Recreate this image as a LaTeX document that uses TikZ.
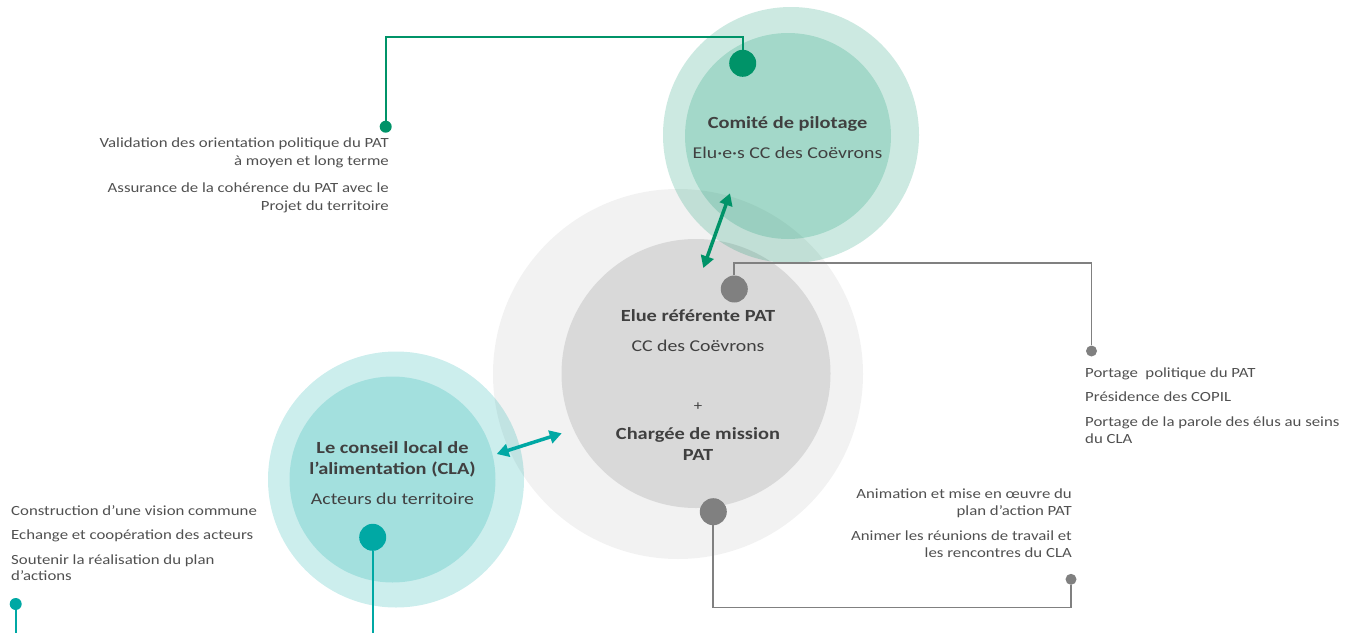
\documentclass[tikz,border=0pt]{standalone}
\usepackage{fontspec}
\setmainfont{Carlito}[FakeStretch=1.2]
\usetikzlibrary{arrows.meta}
\definecolor{cgreen}{RGB}{0,147,104}
\definecolor{cteal}{RGB}{0,168,164}
\definecolor{cgrayline}{RGB}{128,128,128}
\definecolor{cgrayout}{RGB}{242,242,242}
\definecolor{cgrayin}{RGB}{217,217,217}
\definecolor{ctxt}{RGB}{64,64,64}
\definecolor{ctxtl}{RGB}{80,80,80}
\begin{document}
\begin{tikzpicture}[x=1pt,y=-1pt,
  disc/.style={circle,inner sep=0pt,minimum size=#1,draw=none},
  body/.style={font=\fontsize{14}{17}\selectfont,text=ctxtl,inner sep=0pt},
  title/.style={font=\fontsize{17}{21}\selectfont\bfseries,text=ctxt,inner sep=0pt,anchor=base},
  sub/.style={font=\fontsize{16.5}{20}\selectfont,text=ctxt,inner sep=0pt,anchor=base},
  gline/.style={draw=cgreen,line width=1.8pt},
  tline/.style={draw=cteal,line width=1.8pt},
  yline/.style={draw=cgrayline,line width=1.8pt},
  garrow/.style={draw=cgreen,fill=cgreen,line width=3.5pt,{Triangle[length=12pt,width=13pt]}-{Triangle[length=12pt,width=13pt]}},
  tarrow/.style={draw=cteal,fill=cteal,line width=3.5pt,{Triangle[length=12pt,width=13pt]}-{Triangle[length=12pt,width=13pt]}}
]
\useasboundingbox (0,0) rectangle (1352,632);

% big circles
\node[disc=370pt,fill=cgrayout] (midout) at (678,374) {};
\node[disc=269pt,fill=cgrayin] (midin) at (696,373.5) {};
\node[disc=256pt,fill=cgreen,fill opacity=0.2] (topout) at (791,135) {};
\node[disc=206pt,fill=cgreen,fill opacity=0.2] (topin) at (788,136) {};
\node[disc=256pt,fill=cteal,fill opacity=0.2] (leftout) at (396,479.5) {};
\node[disc=206pt,fill=cteal,fill opacity=0.2] (leftin) at (392.5,479.5) {};

% connector corners
\coordinate (gturn) at (385.7,37.3);
\coordinate (yturn1) at (1091.5,263);
\coordinate (yturn2) at (713.3,607.5);
\coordinate (tbot) at (372.7,640);
\coordinate (tbot2) at (15.7,640);

% dots
\node[disc=27pt,fill=cgreen] (gdot) at (742.7,63.3) {};
\node[disc=12pt,fill=cgreen] (gsmall) at (385.7,126.7) {};
\node[disc=27pt,fill=cgrayline] (ydot1) at (734.3,289) {};
\node[disc=11pt,fill=cgrayline] (ysmall1) at (1091.5,351) {};
\node[disc=27pt,fill=cgrayline] (ydot2) at (713.3,511.7) {};
\node[disc=11pt,fill=cgrayline] (ysmall2) at (1071,579.3) {};
\node[disc=27pt,fill=cteal] (tdot) at (372.7,537.3) {};
\node[disc=12pt,fill=cteal] (tsmall) at (15.7,604) {};

% connectors
\draw[gline] (gdot) |- (gturn) -- (gsmall);
\draw[yline] (ydot1) |- (yturn1) -- (ysmall1);
\draw[yline] (ydot2) -- (yturn2) -| (ysmall2);
\draw[tline] (tdot) -- (tbot);
\draw[tline] (tsmall) -- (tbot2);

% arrows
\coordinate (ga1) at (730,193.3);
\coordinate (ga2) at (703.3,268);
\draw[garrow] (ga1) -- (ga2);
\coordinate (ta1) at (496.7,454);
\coordinate (ta2) at (561.7,433.3);
\draw[tarrow] (ta1) -- (ta2);

% circle texts
\node[title] (c1) at (787.5,128.3) {Comité de pilotage};
\node[sub] (c2) at (787.5,158.3) {Elu·e·s CC des Coëvrons};
\node[title] (m1) at (698,321.7) {Elue référente PAT};
\node[sub] (m2) at (698,351.7) {CC des Coëvrons};
\node[font=\fontsize{14}{17}\selectfont,text=ctxt,inner sep=0pt,anchor=base] (m3) at (698,410) {+};
\node[title] (m4) at (698,439.3) {Chargée de mission};
\node[title] (m5) at (698,460) {PAT};
\node[title] (l1) at (392.5,453.3) {Le conseil local de};
\node[title] (l2) at (392.5,474) {l’alimentation (CLA)};
\node[sub] (l3) at (392.5,504) {Acteurs du territoire};

% side texts
\node[body,anchor=base east] (a1) at (389,147.7) {Validation des orientation politique du PAT};
\node[body,anchor=base east] (a2) at (389,165) {à moyen et long terme};
\node[body,anchor=base east] (a3) at (389,192.7) {Assurance de la cohérence du PAT avec le};
\node[body,anchor=base east] (a4) at (389,210) {Projet du territoire};

\node[body,anchor=base west] (b1) at (1085,377.7) {Portage\ \ politique du PAT};
\node[body,anchor=base west] (b2) at (1085,401.7) {Présidence des COPIL};
\node[body,anchor=base west] (b3) at (1085,426.7) {Portage de la parole des élus au seins};
\node[body,anchor=base west] (b4) at (1085,443.3) {du CLA};

\node[body,anchor=base east] (d1) at (1072,498) {Animation et mise en œuvre du};
\node[body,anchor=base east] (d2) at (1072,515.7) {plan d’action PAT};
\node[body,anchor=base east] (d3) at (1072,540) {Animer les réunions de travail et};
\node[body,anchor=base east] (d4) at (1072,557.3) {les rencontres du CLA};

\node[body,anchor=base west] (e1) at (11,515) {Construction d’une vision commune};
\node[body,anchor=base west] (e2) at (11,539.3) {Echange et coopération des acteurs};
\node[body,anchor=base west] (e3) at (11,564) {Soutenir la réalisation du plan};
\node[body,anchor=base west] (e4) at (11,580.7) {d’actions};
\end{tikzpicture}
\end{document}
